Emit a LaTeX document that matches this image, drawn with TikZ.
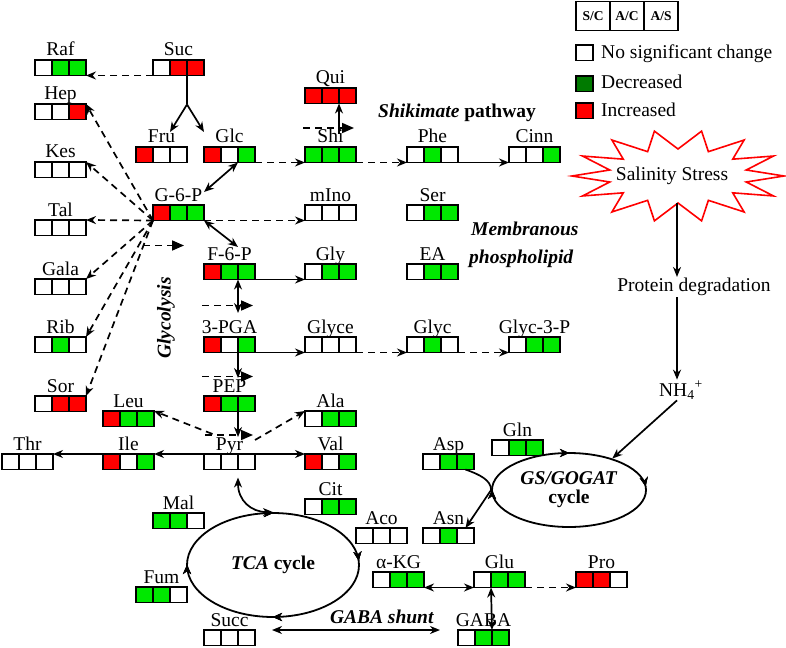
\documentclass[tikz,border=0pt]{standalone}
\usepackage{fontspec}
\setmainfont{Liberation Serif}
\usetikzlibrary{arrows.meta,positioning,shapes.geometric,decorations.markings}

\definecolor{dec}{RGB}{0,232,0}
\definecolor{decdark}{RGB}{0,122,0}
\colorlet{inc}{red}
\colorlet{nsc}{white}

\tikzset{
  cell/.style={draw, line width=1.8pt, minimum width=17pt, minimum height=15.5pt,
    inner sep=0pt, outer sep=0pt, anchor=north west},
  lbl/.style={anchor=base, yshift=4pt, inner sep=0pt, font=\fontsize{19.5}{22}\selectfont},
  txt/.style={inner sep=1pt, font=\fontsize{19.5}{22}\selectfont},
  hdr/.style={inner sep=0pt, font=\fontsize{19.5}{22}\selectfont\bfseries},
  conn/.style={line width=1.7pt},
  dconn/.style={line width=1.7pt, dash pattern=on 7pt off 5pt},
  stray/.style={line width=1.7pt, dash pattern=on 7pt off 5pt, -{Triangle[length=12pt,width=10pt]}},
  cyc/.style={draw, ellipse, line width=1.8pt, inner sep=0pt, align=center,
    font=\fontsize{19.5}{19}\selectfont\bfseries},
  cyctip/.style={decoration={markings,
    mark=at position #1 with {\arrowreversed{Stealth[length=9pt,width=8pt]}}}, postaction={decorate}},
}

% metabolite: name, top-left corner, label, S/C, A/C, A/S colours
\newcommand{\metab}[6]{%
  \node[cell, fill=#4] (#1-1) at (#2) {};
  \node[cell, fill=#5, right=0pt of #1-1] (#1-2) {};
  \node[cell, fill=#6, right=0pt of #1-2] (#1-3) {};
  \node[lbl] (#1-lbl) at (#1-2.north) {#3};}

\begin{document}
\begin{tikzpicture}[x=1pt,y=-1pt,>={Stealth[length=10pt,width=8pt]}]
  \useasboundingbox (0,0) rectangle (786,647);
  \fill[white] (0,0) rectangle (786,647);

  % Legend
  \node[cell, minimum width=34pt, minimum height=29pt, font=\fontsize{13.5}{14}\selectfont\bfseries] (leg-1) at (576,1.5) {S/C};
  \node[cell, minimum width=34pt, minimum height=29pt, font=\fontsize{13.5}{14}\selectfont\bfseries, right=0pt of leg-1] (leg-2) {A/C};
  \node[cell, minimum width=34pt, minimum height=29pt, font=\fontsize{13.5}{14}\selectfont\bfseries, right=0pt of leg-2] (leg-3) {A/S};
  \node[cell, fill=nsc] (key-nsc) at (576,45) {};
  \node[cell, fill=decdark] (key-dec) at (576,76) {};
  \node[cell, fill=inc] (key-inc) at (576,103) {};
  \node[txt, anchor=base west] (key-nsc-t) at (600,59) {No significant change};
  \node[txt, anchor=base west] (key-dec-t) at (600,89) {Decreased};
  \node[txt, anchor=base west] (key-inc-t) at (600,117) {Increased};

  % Metabolites
  \metab{raf}{35,60}{Raf}{nsc}{dec}{dec}
  \metab{suc}{153,60}{Suc}{nsc}{inc}{inc}
  \metab{hep}{35,104}{Hep}{nsc}{nsc}{inc}
  \metab{qui}{305,88}{Qui}{inc}{inc}{inc}
  \metab{fru}{136,147}{Fru}{inc}{nsc}{nsc}
  \metab{glc}{204,147}{Glc}{inc}{nsc}{dec}
  \metab{shi}{305,147}{Shi}{dec}{dec}{dec}
  \metab{phe}{407,147}{Phe}{nsc}{dec}{nsc}
  \metab{cinn}{509,147}{Cinn}{nsc}{nsc}{dec}
  \metab{kes}{35,162}{Kes}{nsc}{nsc}{nsc}
  \metab{g6p}{153,205}{G-6-P}{inc}{dec}{dec}
  \metab{mino}{305,205}{mIno}{nsc}{nsc}{nsc}
  \metab{ser}{407,205}{Ser}{nsc}{dec}{dec}
  \metab{tal}{35,220}{Tal}{nsc}{nsc}{nsc}
  \metab{f6p}{204,264}{F-6-P}{inc}{dec}{dec}
  \metab{gly}{305,264}{Gly}{nsc}{dec}{dec}
  \metab{ea}{407,264}{EA}{nsc}{dec}{dec}
  \metab{gala}{35,279}{Gala}{nsc}{nsc}{nsc}
  \metab{rib}{35,337}{Rib}{nsc}{dec}{nsc}
  \metab{pga}{204,337}{3-PGA}{inc}{nsc}{dec}
  \metab{glyce}{305,337}{Glyce}{nsc}{nsc}{nsc}
  \metab{glyc}{407,337}{Glyc}{nsc}{dec}{nsc}
  \metab{glyc3p}{509,337}{Glyc-3-P}{nsc}{dec}{dec}
  \metab{sor}{35,396}{Sor}{nsc}{inc}{inc}
  \metab{pep}{204,396}{PEP}{inc}{dec}{dec}
  \metab{leu}{103,411}{Leu}{inc}{dec}{dec}
  \metab{ala}{305,411}{Ala}{nsc}{dec}{dec}
  \metab{thr}{2,454}{Thr}{nsc}{nsc}{nsc}
  \metab{ile}{103,454}{Ile}{inc}{nsc}{dec}
  \metab{pyr}{204,454}{Pyr}{nsc}{nsc}{nsc}
  \metab{val}{305,454}{Val}{inc}{nsc}{dec}
  \metab{gln}{492,440}{Gln}{nsc}{dec}{dec}
  \metab{asp}{423,454}{Asp}{nsc}{dec}{dec}
  \metab{cit}{305,499}{Cit}{nsc}{dec}{dec}
  \metab{mal}{153,513}{Mal}{dec}{dec}{nsc}
  \metab{aco}{356,528}{Aco}{nsc}{nsc}{nsc}
  \metab{asn}{423,528}{Asn}{nsc}{dec}{nsc}
  \metab{akg}{373,572}{α-KG}{nsc}{dec}{dec}
  \metab{glu}{474,572}{Glu}{nsc}{dec}{dec}
  \metab{pro}{576,572}{Pro}{inc}{inc}{nsc}
  \metab{fum}{136,587}{Fum}{dec}{dec}{nsc}
  \metab{succ}{204,630}{Succ}{nsc}{nsc}{nsc}
  \metab{gaba}{458,630}{GABA}{nsc}{dec}{dec}

  % Pathway names
  \node[hdr, anchor=base west] (shik) at (378,118) {\textit{Shikimate} pathway};
  \node[hdr, anchor=base west] (memb) at (471,235) {\textit{Membranous}};
  \node[hdr, anchor=base west] (phos) at (469,263) {\textit{phospholipid}};
  \node[hdr, rotate=90] (glyco) at (166,318) {\textit{Glycolysis}};
  \node[hdr] (gabash) at (382,617) {\textit{GABA shunt}};

  % Cycles
  \node[cyc, minimum width=172pt, minimum height=104pt,
    cyctip=0.01, cyctip=0.25, cyctip=0.5, cyctip=0.75] (tca) at (273,565) {\textit{TCA} cycle};
  \node[cyc, minimum width=154pt, minimum height=74pt,
    cyctip=0.01, cyctip=0.25, cyctip=0.5] (gs) at (569,490) {\textit{GS/GOGAT}\\cycle};

  % Salinity stress
  \draw[red, line width=1.6pt, fill=white] (784,176)
    \foreach \i in {1,...,27} {-- ({678+(106-36*mod(\i,2))*cos(\i*360/28)}, {176+(46-19*mod(\i,2))*sin(\i*360/28)})} -- cycle;
  \node[txt] (stress) at (672,176) {Salinity Stress};
  \coordinate (stressbot) at (677,203);
  \node[txt] (prot) at (694,287) {Protein degradation};
  \node[txt] (nh4) at (681,390) {NH\textsubscript{4}\textsuperscript{+}};
  \draw[conn,->] (stressbot) -- (stressbot |- prot.north);
  \draw[conn,->] (stressbot |- prot.south) -- (stressbot |- nh4.north);
  \draw[conn,->] ([xshift=-4pt]nh4.south) -- (gs.36);

  % Sucrose
  \draw[dconn,->] (suc-1.south west) -- (raf-3.south east);
  \coordinate (sucfork) at ([yshift=-29pt]suc-2.south east);
  \draw[conn] (suc-2.south east) -- (sucfork);
  \draw[conn,->] (sucfork) -- ([yshift=15pt]fru-3.north west);
  \draw[conn,->] (sucfork) -- ([yshift=15pt]glc-1.north west);
  \draw[conn,<->] (glc-2.south east) -- ([yshift=13pt]g6p-3.north east);

  % Sugars from G-6-P
  \foreach \t in {hep,kes,tal,gala,rib,sor}
    \draw[dconn,->] (g6p-1.south west) -- (\t-3.north east);
  \draw[dconn,->] (g6p-3.south east) -- (mino-1.south west);

  % Shikimate pathway
  \draw[dconn,->] (glc-3.south east) -- (shi-1.south west);
  \draw[dconn,->] (shi-3.south east) -- (phe-1.south west);
  \draw[conn,->] (phe-3.south east) -- (cinn-1.south west);
  \draw[conn,->] ([yshift=13pt]shi-2.north east) -- (qui-2.south east);

  % Glycolysis
  \draw[conn,<->] (g6p-3.south east) -- ([yshift=17pt]f6p-2.north east);
  \draw[conn,->] (f6p-3.south east) -- (gly-1.south west);
  \draw[conn,<->] (f6p-2.south east) -- ([yshift=24pt]pga-2.north east);
  \draw[conn,->] (pga-3.south east) -- (glyce-1.south west);
  \draw[dconn,->] (glyce-3.south east) -- (glyc-1.south west);
  \draw[dconn,->] (glyc-3.south east) -- (glyc3p-1.south west);
  \draw[conn,->] (pga-2.south east) -- ([yshift=18pt]pep-2.north east);
  \draw[conn,->] (pep-2.south east) -- ([yshift=17pt]pyr-2.north east);

  % Loose arrow heads
  \draw[stray] ([xshift=-10pt,yshift=-25pt]g6p-1.south west) -- ([xshift=31pt,yshift=-25pt]g6p-1.south west);
  \draw[stray] ([xshift=-2pt,yshift=-26pt]f6p-1.south west) -- ([xshift=49pt,yshift=-26pt]f6p-1.south west);
  \draw[stray] ([xshift=-2pt,yshift=-24pt]pga-1.south west) -- ([xshift=49pt,yshift=-24pt]pga-1.south west);
  \draw[stray] ([xshift=1pt,yshift=19pt]pyr-1.north west) -- ([xshift=49pt,yshift=19pt]pyr-1.north west);
  \draw[stray] ([xshift=-2pt,yshift=19pt]shi-1.north west) -- ([xshift=49pt,yshift=19pt]shi-1.north west);

  % Amino acids from pyruvate
  \draw[conn,->] (pyr-1.north west) -- (ile-3.north east);
  \draw[conn,->] (ile-1.north west) -- (thr-3.north east);
  \draw[conn,->] (pyr-3.north east) -- (val-1.north west);
  \draw[dconn,->] ([yshift=20pt]pyr-1.north) -- (leu-3.north east);
  \draw[dconn,->] ([yshift=14pt]pyr-3.north east) -- (ala-1.north west);
  \draw[conn,<->] ([yshift=-8pt]pyr-2.south east) .. controls +(0,23) and +(-22,0) .. (tca.north);

  % Nitrogen
  \draw[conn,->] (asp-3.south) .. controls +(14,5) and +(0,-10) .. (gs.west) -- (asn-3.north);
  \draw[conn,<->] (akg-3.south east) -- (glu-1.south west);
  \draw[conn,<->] (glu-1.south east) -- (gaba-2.north east);
  \draw[dconn,->] (glu-3.south east) -- (pro-1.south west);
  \draw[conn,<->] ([xshift=17pt]succ-3.north east) -- ([xshift=-18pt]gaba-1.north west);
\end{tikzpicture}
\end{document}
